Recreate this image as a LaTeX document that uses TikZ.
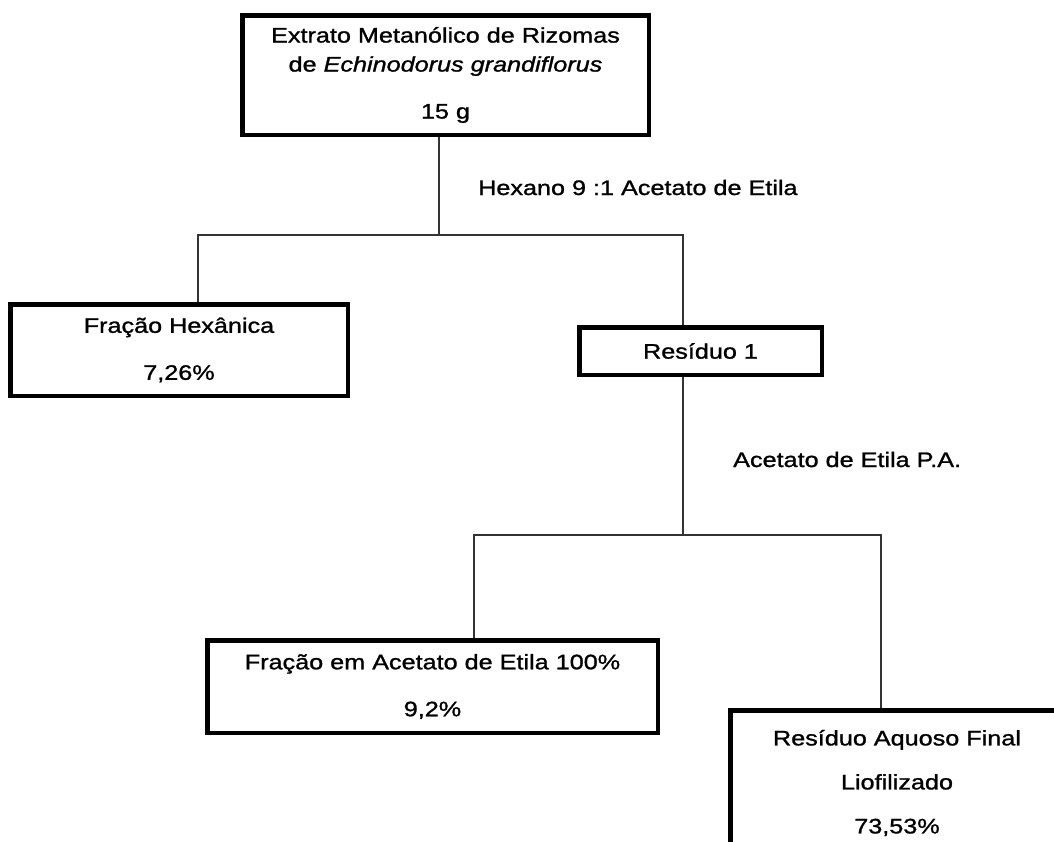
\documentclass[tikz,border=0pt]{standalone}
\usepackage{fontspec}
\setmainfont{Liberation Sans}[FakeStretch=1.2, FakeBold=1.2]
\usetikzlibrary{positioning, calc}
\tikzset{
    box/.style={draw=black, line width=4.5pt, fill=white, align=center, inner sep=0pt},
    conn/.style={draw=black!80, line width=1.3pt},
    lbl/.style={inner sep=0pt},
    every node/.append style={font=\fontsize{21}{29}\selectfont},
}
\begin{document}
\begin{tikzpicture}[x=1pt, y=-1pt]
    \path[use as bounding box, clip] (0,0) rectangle (1054,841);

    \node[box, minimum width=406.5, minimum height=119.5] (ext) at (445.5,75)
      {Extrato Metanólico de Rizomas\\de \textit{Echinodorus grandiflorus}\\[18pt]15 g};
    \node[box, minimum width=337.5, minimum height=91.5] (hex) at (179,350)
      {Fração Hexânica\\[18pt]7,26\%};
    \node[box, minimum width=242.5, minimum height=47.5] (r1) at (700.5,351)
      {Resíduo 1};
    \node[box, minimum width=450.5, minimum height=92.5] (fae) at (432.5,686.5)
      {Fração em Acetato de Etila 100\%\\[18pt]9,2\%};
    \node[box, minimum width=333.5, minimum height=145.5] (raq) at (897,783)
      {Resíduo Aquoso Final\\[15pt]Liofilizado\\[15pt]73,53\%};

    \coordinate (j1) at (439,235);
    \coordinate (j2) at (683,535);

    \draw[conn] ([xshift=-6.5]ext.south) -- (j1);
    \draw[conn] ([xshift=19]hex.north) |- (j1) -| ([xshift=-17.5]r1.north);
    \draw[conn] ([xshift=-17.5]r1.south) -- (j2);
    \draw[conn] ([xshift=41.5]fae.north) |- (j2) -| ([xshift=-16]raq.north);

    \node[lbl, anchor=base west] (hexlbl) at (478,195) {Hexano 9 :1 Acetato de Etila};
    \node[lbl, anchor=base west] (aclbl) at (733,467) {Acetato de Etila P.A.};
\end{tikzpicture}
\end{document}
